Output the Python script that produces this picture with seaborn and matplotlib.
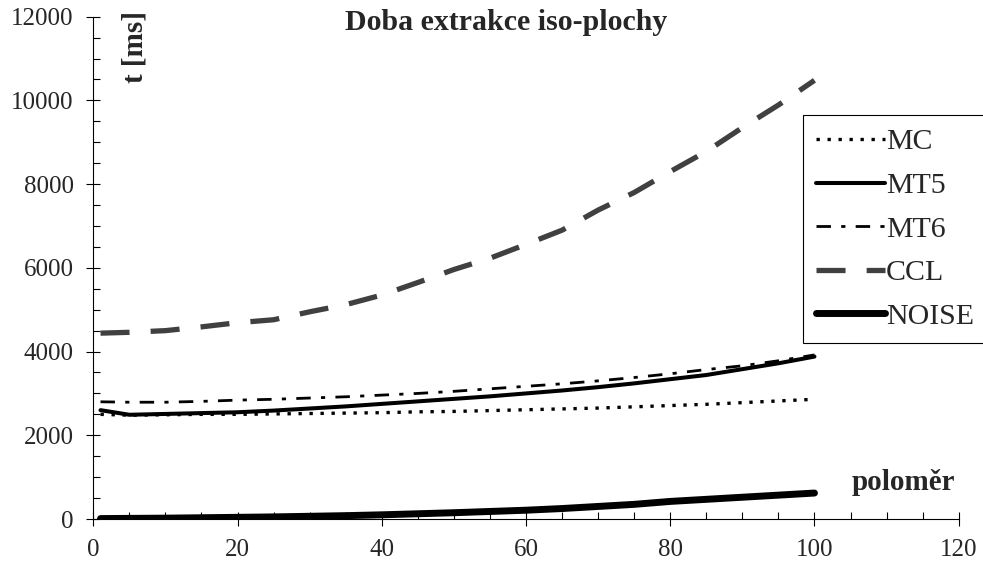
import numpy as np
import matplotlib
matplotlib.use("Agg")
import matplotlib.pyplot as plt
from matplotlib.ticker import MultipleLocator
import pandas as pd
import seaborn as sns

# radius values (x axis)
polomer = [1, 5, 10, 15, 20, 25, 30, 35, 40, 45, 50, 55, 60, 65, 70, 75, 80, 85, 90, 95, 100]

# extraction times in ms
mc = [2500, 2480, 2490, 2500, 2500, 2510, 2520, 2530, 2540, 2560, 2570, 2590, 2610, 2630,
      2650, 2680, 2710, 2740, 2780, 2820, 2860]
mt5 = [2600, 2490, 2510, 2530, 2550, 2590, 2640, 2690, 2750, 2810, 2870, 2930, 3000, 3070,
       3150, 3240, 3340, 3440, 3580, 3720, 3880]
mt6 = [2800, 2790, 2790, 2810, 2840, 2860, 2890, 2920, 2960, 3000, 3050, 3110, 3170, 3230,
       3300, 3380, 3470, 3570, 3660, 3780, 3920]
ccl = [4440, 4460, 4500, 4590, 4690, 4760, 4950, 5120, 5350, 5650, 5960, 6230, 6560, 6900,
       7380, 7800, 8300, 8780, 9350, 9890, 10480]
noise = [10, 15, 20, 30, 40, 50, 65, 80, 100, 125, 150, 180, 210, 250, 300, 350, 420, 470,
         520, 570, 620]

series_names = ["MC", "MT5", "MT6", "CCL", "NOISE"]
series_values = [mc, mt5, mt6, ccl, noise]

# line styles per series
styles = {
    "MC": dict(color="black", lw=2.4, ls=(0, (1, 2.3))),
    "MT5": dict(color="black", lw=2.9, ls="-"),
    "MT6": dict(color="black", lw=2.0, ls=(0, (5.2, 3.7, 1.5, 3.7))),
    "CCL": dict(color="#404040", lw=3.8, ls=(0, (5.5, 4.0))),
    "NOISE": dict(color="black", lw=5.0, ls="-"),
}

sns.set_style("ticks")
plt.rcParams["font.family"] = ["Liberation Serif", "DejaVu Serif"]
plt.rcParams["font.size"] = 18

fig = plt.figure(figsize=(9.83, 5.73), dpi=100)
ax = fig.add_axes([93.3 / 983, 54 / 573, (958.7 - 93.3) / 983, (519 - 16.7) / 573])

for name, vals in zip(series_names, series_values):
    df = pd.DataFrame({"polomer": polomer, "t": vals})
    st = styles[name]
    sns.lineplot(data=df, x="polomer", y="t", ax=ax, label=name, color=st["color"],
                 linewidth=st["lw"], linestyle=st["ls"], solid_capstyle="round")

ax.set_xlim(0, 120)
ax.set_ylim(0, 12000)
ax.xaxis.set_major_locator(MultipleLocator(20))
ax.xaxis.set_minor_locator(MultipleLocator(5))
ax.yaxis.set_major_locator(MultipleLocator(2000))
ax.yaxis.set_minor_locator(MultipleLocator(500))
ax.tick_params(which="major", direction="inout", length=10.5, width=0.8, labelsize=18, pad=9,
               color="black")
ax.tick_params(which="minor", direction="in", length=5, width=0.8, color="black")
ax.set_xlabel("")
ax.set_ylabel("")
for side in ["top", "right"]:
    ax.spines[side].set_visible(False)
for side in ["left", "bottom"]:
    ax.spines[side].set_linewidth(0.8)
    ax.spines[side].set_color("black")

leg = ax.legend(loc="upper left", bbox_to_anchor=(803 / 983, 1 - 115 / 573),
                bbox_transform=fig.transFigure, fontsize=21.5, frameon=True, fancybox=False,
                framealpha=1, edgecolor="black", handlelength=2.3, handletextpad=0.03,
                labelspacing=0.56, borderpad=0.45, borderaxespad=0)
leg.get_frame().set_linewidth(0.8)

fig.text(506.5 / 983, 1 - 22 / 573, "Doba extrakce iso-plochy", ha="center", va="center",
         fontsize=21.5, fontweight="bold")
fig.text(135 / 983, 1 - 47 / 573, "t [ms]", ha="center", va="center", rotation=90,
         fontsize=21, fontweight="bold")
fig.text(903 / 983, 1 - 482 / 573, "poloměr", ha="center", va="center",
         fontsize=21, fontweight="bold")

fig.savefig("out.png", dpi=100)
